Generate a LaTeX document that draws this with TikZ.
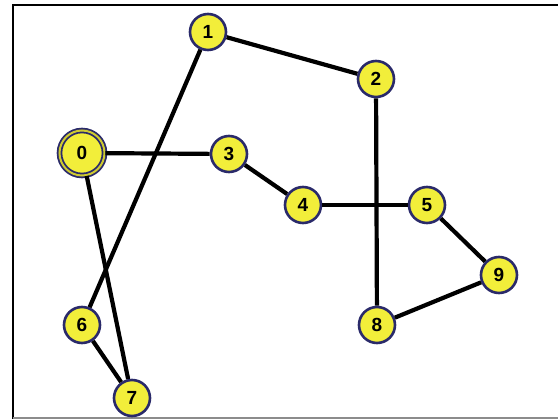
\documentclass[tikz,border=0pt]{standalone}
\usepackage{fontspec}
\setmainfont{Liberation Sans}
\definecolor{nodefill}{HTML}{F2EE3A}
\definecolor{nodering}{HTML}{2A2A6A}
\begin{document}
\begin{tikzpicture}[x=1pt,y=-1pt,
  vertex/.style={circle,fill=nodefill,draw=nodering,line width=2.6pt,
    minimum size=36pt,inner sep=0pt,font=\bfseries\fontsize{19}{19}\selectfont},
  bigvertex/.style={vertex,minimum size=45pt,double=nodefill!85!black,
    double distance=2pt,line width=1.8pt},
  edge/.style={line width=4.2pt,black}]
  \useasboundingbox (0,0) rectangle (558,419);
  % frame
  \draw[line width=2.2pt,black] (13,419) -- (13,5) -- (558,5);
  \draw[line width=2pt,black!45] (13,418) -- (558,418);
  % vertices
  \node[bigvertex] (n0) at (82,153) {0};
  \node[vertex] (n1) at (208,32) {1};
  \node[vertex] (n2) at (376,79) {2};
  \node[vertex] (n3) at (229,154) {3};
  \node[vertex] (n4) at (303,205) {4};
  \node[vertex] (n5) at (427,205) {5};
  \node[vertex] (n6) at (82,325) {6};
  \node[vertex] (n7) at (132,398) {7};
  \node[vertex] (n8) at (377,325) {8};
  \node[vertex] (n9) at (499,275) {9};
  % edges
  \draw[edge] (n1) -- (n2);
  \draw[edge] (n1) -- (n6);
  \draw[edge] (n0) -- (n3);
  \draw[edge] (n0) -- (n7);
  \draw[edge] (n3) -- (n4);
  \draw[edge] (n4) -- (n5);
  \draw[edge] (n2) -- (n8);
  \draw[edge] (n5) -- (n9);
  \draw[edge] (n9) -- (n8);
  \draw[edge] (n6) -- (n7);
\end{tikzpicture}
\end{document}
